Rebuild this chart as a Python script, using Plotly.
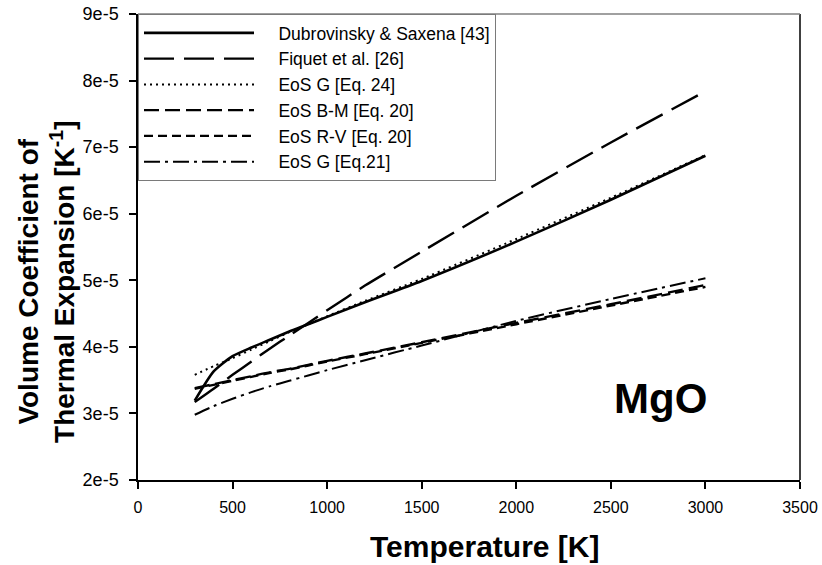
import plotly.graph_objects as go

# ---- data ----
T = [300, 400, 500, 600, 700, 800, 900, 1000, 1200, 1500, 2000, 2500, 3000]

dubrovinsky = [3.19e-5, 3.63e-5, 3.86e-5, 3.99e-5, 4.11e-5, 4.23e-5, 4.34e-5, 4.45e-5, 4.67e-5, 4.99e-5, 5.58e-5, 6.21e-5, 6.87e-5]
fiquet      = [3.17e-5, 3.37e-5, 3.58e-5, 3.78e-5, 3.98e-5, 4.17e-5, 4.36e-5, 4.55e-5, 4.92e-5, 5.43e-5, 6.27e-5, 7.07e-5, 7.84e-5]
eos_g24     = [3.58e-5, 3.71e-5, 3.83e-5, 3.96e-5, 4.09e-5, 4.22e-5, 4.34e-5, 4.46e-5, 4.69e-5, 5.02e-5, 5.62e-5, 6.24e-5, 6.88e-5]
eos_bm      = [3.38e-5, 3.44e-5, 3.50e-5, 3.56e-5, 3.62e-5, 3.67e-5, 3.73e-5, 3.79e-5, 3.90e-5, 4.07e-5, 4.36e-5, 4.64e-5, 4.93e-5]
eos_rv      = [3.37e-5, 3.43e-5, 3.49e-5, 3.55e-5, 3.61e-5, 3.66e-5, 3.72e-5, 3.78e-5, 3.89e-5, 4.06e-5, 4.34e-5, 4.62e-5, 4.90e-5]
eos_g21     = [2.98e-5, 3.11e-5, 3.22e-5, 3.32e-5, 3.41e-5, 3.49e-5, 3.57e-5, 3.65e-5, 3.80e-5, 4.02e-5, 4.39e-5, 4.72e-5, 5.03e-5]

names = ["Dubrovinsky & Saxena [43]", "Fiquet et al. [26]", "EoS G [Eq. 24]",
         "EoS B-M [Eq. 20]", "EoS R-V [Eq. 20]", "EoS G [Eq.21]"]
values = [dubrovinsky, fiquet, eos_g24, eos_bm, eos_rv, eos_g21]
dashes = ["solid", "30px,10px", "2px,4px", "15px,6px", "9px,5px", "16px,5px,3px,5px"]
widths = [2.6, 2.4, 2.0, 2.4, 2.4, 2.0]

x_ticks = [0, 500, 1000, 1500, 2000, 2500, 3000, 3500]
y_ticks = [2e-5, 3e-5, 4e-5, 5e-5, 6e-5, 7e-5, 8e-5, 9e-5]
y_tick_labels = ["2e-5", "3e-5", "4e-5", "5e-5", "6e-5", "7e-5", "8e-5", "9e-5"]

FONT = "Liberation Sans, Arial, sans-serif"
NB = "\u00a0"

fig = go.Figure()
for name, vals, dash, w in zip(names, values, dashes, widths):
    fig.add_trace(go.Scatter(
        x=T, y=vals, mode="lines", name=NB * 4 + name,
        line=dict(color="black", dash=dash, width=w, shape="spline", smoothing=0.6),
    ))

fig.update_layout(
    template="none",
    width=822, height=565,
    margin=dict(l=138, r=22, t=14, b=85, autoexpand=False),
    paper_bgcolor="white", plot_bgcolor="white",
    font=dict(family=FONT, color="black", size=16),
    showlegend=True,
    legend=dict(
        x=0, y=1, xanchor="left", yanchor="top",
        bordercolor="#7a7a7a", borderwidth=1, bgcolor="white",
        font=dict(family=FONT, size=17.5, color="black"),
        itemwidth=110, tracegroupgap=0,
    ),
    xaxis=dict(
        range=[0, 3500], tickvals=x_ticks, ticktext=[str(v) for v in x_ticks],
        showgrid=False, zeroline=False, automargin=False,
        showline=True, linecolor="black", linewidth=1.5, mirror=False,
        ticks="outside", ticklen=7, tickcolor="black", tickwidth=1.5,
        tickfont=dict(size=16), ticklabelstandoff=5,
    ),
    yaxis=dict(
        range=[2e-5, 9e-5], tickvals=y_ticks, ticktext=y_tick_labels,
        showgrid=False, zeroline=False, automargin=False,
        showline=True, linecolor="black", linewidth=1.5,
        ticks="outside", ticklen=7, tickcolor="black", tickwidth=1.5,
        tickfont=dict(size=18), ticklabelstandoff=7,
    ),
    shapes=[
        dict(type="line", xref="paper", yref="paper", x0=1, x1=1, y0=0, y1=1,
             line=dict(color="black", width=1.5)),
        dict(type="line", xref="paper", yref="paper", x0=0, x1=1, y0=1, y1=1,
             line=dict(color="#808080", width=1.5)),
    ],
    annotations=[
        dict(text="<b>MgO</b>", x=2760, y=3.22e-5, xref="x", yref="y",
             showarrow=False, font=dict(size=42, family=FONT, color="black")),
        dict(text="<b>Temperature [K]</b>", x=0.523, y=-0.143, xref="paper", yref="paper",
             xanchor="center", yanchor="middle", showarrow=False,
             font=dict(size=30, family=FONT, color="black")),
        dict(text="<b>Volume Coefficient of<br>Thermal Expansion [K<sup>-1</sup>]</b>",
             x=-0.1375, y=0.425, xref="paper", yref="paper", textangle=-90,
             xanchor="center", yanchor="middle", showarrow=False,
             font=dict(size=28, family=FONT, color="black")),
    ],
)

fig.write_html("out.html", config={"displayModeBar": False},
               post_script="document.body.style.margin='0px';document.body.style.overflow='hidden';")
